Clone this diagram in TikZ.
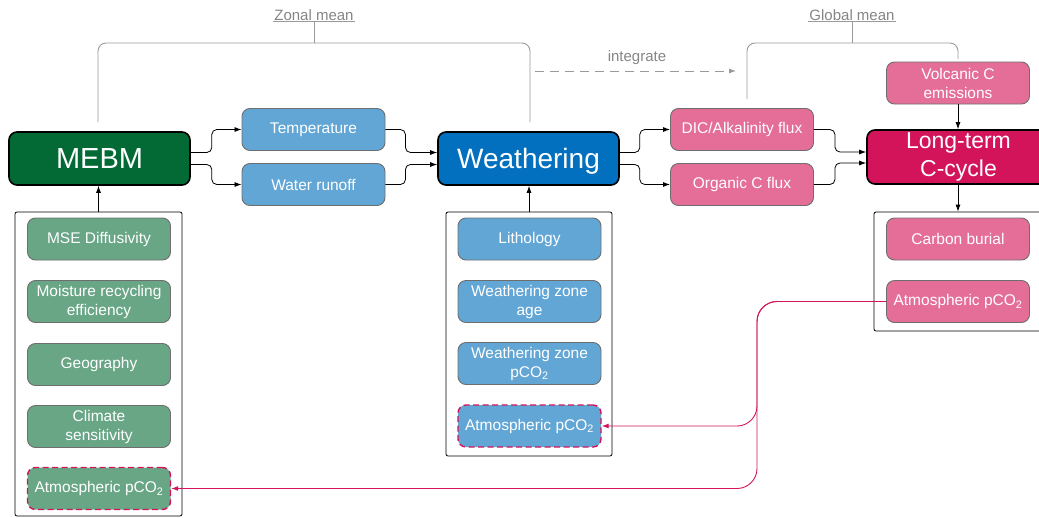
\documentclass[tikz,border=0pt]{standalone}
\usepackage{fontspec}
\setmainfont{Liberation Sans}
\usetikzlibrary{arrows.meta,calc}
\definecolor{dgreen}{HTML}{036A36}
\definecolor{lgreen}{HTML}{68A685}
\definecolor{wblue}{HTML}{0270BE}
\definecolor{lblue}{HTML}{62A6D6}
\definecolor{crim}{HTML}{D3145A}
\definecolor{lpink}{HTML}{E46E98}
\definecolor{itemgray}{HTML}{6E6E6E}
\definecolor{linegray}{HTML}{9A9A9A}
\definecolor{textgray}{HTML}{858585}
\begin{document}
\begin{tikzpicture}[x=1pt,y=-1pt,
  mainbox/.style={draw=black, line width=1.6pt, rounded corners=8pt, text=white, align=center, inner sep=0pt},
  item/.style={draw=itemgray, line width=0.9pt, rounded corners=8pt, text=white, align=center,
    minimum width=143pt, minimum height=42pt, inner sep=1pt, font=\fontsize{15.5}{19}\selectfont},
  dashitem/.style={item, draw=crim, line width=1.4pt, dash pattern=on 6pt off 3.5pt},
  cont/.style={draw=black, line width=0.8pt, rounded corners=2pt, inner sep=0pt},
  conn/.style={draw=black, line width=0.8pt, rounded corners=5pt, -{Latex[length=7pt,width=5pt]}},
  gline/.style={draw=linegray, line width=0.9pt},
  glabel/.style={text=textgray, font=\fontsize{15}{18}\selectfont, inner sep=1pt},
  pinkline/.style={draw=crim, line width=0.9pt, rounded corners=20pt, -{Latex[length=7pt,width=5pt]}}
]
\useasboundingbox (0,0) rectangle (1039,517);

% containers
\node[cont, minimum width=167pt, minimum height=304pt] (lcont) at (98.5,364) {};
\node[cont, minimum width=166pt, minimum height=244pt] (mcont) at (529,334) {};
\node[cont, minimum width=168pt, minimum height=119pt] (rcont) at (958,271.5) {};

% main nodes
\node[mainbox, fill=dgreen, minimum width=181pt, minimum height=53pt, font=\fontsize{29}{32}\selectfont] (mebm) at (99.5,158.5) {MEBM};
\node[mainbox, fill=wblue, minimum width=181pt, minimum height=53pt, text depth=0pt, font=\fontsize{28}{32}\selectfont] (weath) at (528.5,158.5) {Weathering};
\node[mainbox, fill=crim, minimum width=183pt, minimum height=54pt, font=\fontsize{23}{28}\selectfont] (ltc) at (958.5,157) {Long-term\\C-cycle};

% flux nodes
\node[item, fill=lblue] (temp) at (313.5,129.5) {Temperature};
\node[item, fill=lblue] (runoff) at (313.5,184.5) {Water runoff};
\node[item, fill=lpink] (dic) at (742,129.5) {DIC/Alkalinity flux};
\node[item, fill=lpink] (org) at (742,184.5) {Organic C flux};
\node[item, fill=lpink] (volc) at (958,83) {Volcanic C\\emissions};

% left items
\node[item, fill=lgreen] (mse) at (99,239) {MSE Diffusivity};
\node[item, fill=lgreen] (moist) at (99,301.5) {Moisture recycling\\efficiency};
\node[item, fill=lgreen] (geo) at (99,364.5) {Geography};
\node[item, fill=lgreen] (clim) at (99,426.5) {Climate\\sensitivity};
\node[dashitem, fill=lgreen] (latm) at (99,488.5) {Atmospheric pCO\textsubscript{2}};

% middle items
\node[item, fill=lblue] (lith) at (529.5,239) {Lithology};
\node[item, fill=lblue] (wzage) at (529.5,301.5) {Weathering zone\\age};
\node[item, fill=lblue] (wzp) at (529.5,363.5) {Weathering zone\\pCO\textsubscript{2}};
\node[dashitem, fill=lblue] (matm) at (529.5,426) {Atmospheric pCO\textsubscript{2}};

% right items
\node[item, fill=lpink] (burial) at (958,239) {Carbon burial};
\node[item, fill=lpink] (ratm) at (958,301.5) {Atmospheric pCO\textsubscript{2}};

% connectors between main nodes
\draw[conn] ([yshift=6pt]mebm.east) -- ++(21,0) |- (temp.west);
\draw[conn] ([yshift=-6pt]mebm.east) -- ++(21,0) |- (runoff.west);
\draw[conn] (temp.east) -- ++(20,0) |- ([yshift=6pt]weath.west);
\draw[conn] (runoff.east) -- ++(20,0) |- ([yshift=-6pt]weath.west);
\draw[conn] ([yshift=6pt]weath.east) -- ++(20,0) |- (dic.west);
\draw[conn] ([yshift=-6pt]weath.east) -- ++(20,0) |- (org.west);
\draw[conn] (dic.east) -- ++(21,0) |- ([yshift=5pt]ltc.west);
\draw[conn] (org.east) -- ++(21,0) |- ([yshift=-6pt]ltc.west);
\draw[conn] (volc.south) -- (volc.south |- ltc.north);
\draw[conn] (ltc.south -| rcont.north) -- (rcont.north);
\draw[conn] (lcont.north) -- (lcont.north |- mebm.south);
\draw[conn] (mcont.north) -- (mcont.north |- weath.south);

% zonal mean bracket
\node[glabel] (zonal) at (314,15) {Zonal mean};
\draw[gline] (zonal.south west) -- (zonal.south east);
\coordinate (zl) at (98,122);
\coordinate (zr) at (530,122);
\coordinate (zt) at (314,43);
\draw[gline] (zonal.south) -- (zt);
\draw[gline, rounded corners=8pt] (zl) |- (zt -| zr) -- (zr);

% global mean bracket
\node[glabel] (global) at (852,15) {Global mean};
\draw[gline] (global.south west) -- (global.south east);
\coordinate (gl) at (747,99);
\coordinate (gr) at (958,59);
\coordinate (gt) at (852,43);
\draw[gline] (global.south) -- (gt);
\draw[gline, rounded corners=8pt] (gl) |- (gt -| gr) -- (gr);

% integrate
\coordinate (is) at (535,71);
\coordinate (ie) at (736,71);
\draw[gline, dash pattern=on 9pt off 6pt, -{Latex[length=7pt,width=5pt]}] (is) -- (ie);
\node[glabel] (integ) at (637,58) {integrate};

% pink feedback connectors
\coordinate (bx) at (757,0);
\draw[pinkline] (ratm.west) -| (bx |- matm.east) -- (matm.east);
\draw[pinkline] (ratm.west) -| (bx |- latm.east) -- (latm.east);
\end{tikzpicture}
\end{document}
